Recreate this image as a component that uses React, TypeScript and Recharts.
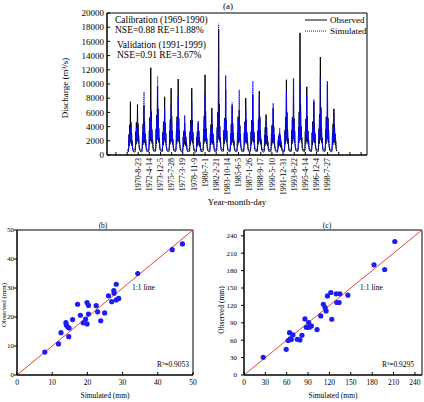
import {
  LineChart,
  Line,
  XAxis,
  YAxis,
  ReferenceArea,
  ReferenceLine,
  ScatterChart,
  Scatter,
} from 'recharts'

const font = '"Liberation Serif", "Times New Roman", serif'
const pointColor = '#1d1df2'
const simBlue = '#0a0aff'
const lineRed = '#e2483e'

// discharge samples (m3/s) taken twice a month through the flood season, one row per year from 1969
const firstYear = 1969
const sampleDays = [15, 46, 74, 91, 106, 121, 136, 152, 167, 182, 197, 213, 228, 244, 259, 274, 305, 335]

const observedFlow = [
  [420, 380, 460, 1100, 2900, 1300, 4200, 1700, 3500, 7500, 2100, 4600, 1600, 3100, 1300, 2000, 750, 500],
  [460, 400, 500, 1300, 3300, 1500, 4600, 1900, 3800, 2300, 7100, 2000, 4400, 1700, 2800, 1500, 800, 540],
  [480, 420, 510, 1200, 3100, 1400, 4400, 1800, 5200, 7000, 2200, 4700, 1700, 3000, 1400, 2100, 780, 520],
  [500, 440, 530, 1300, 3500, 1500, 5300, 2000, 4400, 12300, 2500, 6100, 1900, 3600, 1600, 2300, 850, 560],
  [540, 470, 560, 1400, 3700, 1600, 5600, 2100, 4700, 9700, 2600, 6500, 2000, 3800, 1700, 2400, 880, 580],
  [500, 440, 520, 1200, 3200, 1400, 4700, 1800, 3900, 2300, 8200, 2100, 4500, 1700, 3100, 1400, 820, 540],
  [520, 450, 540, 1300, 3400, 1500, 5000, 1900, 4200, 9400, 2400, 5500, 1800, 3400, 1500, 2200, 840, 560],
  [540, 470, 560, 1400, 3600, 1600, 5400, 2000, 4500, 2600, 10700, 2300, 5200, 1800, 3500, 1600, 870, 580],
  [440, 390, 450, 1000, 2500, 1200, 3400, 1500, 2900, 4500, 1800, 3300, 1400, 2500, 1200, 1700, 700, 480],
  [500, 440, 520, 1200, 3300, 1500, 4900, 1900, 4100, 2400, 9400, 2200, 4900, 1700, 3200, 1500, 820, 550],
  [440, 390, 450, 1000, 2500, 1200, 3300, 1500, 3000, 4500, 1800, 3400, 1400, 2400, 1200, 1700, 700, 480],
  [520, 450, 540, 1300, 3600, 1600, 5500, 2000, 4600, 11300, 2500, 6200, 1900, 3700, 1600, 2300, 860, 570],
  [480, 420, 500, 1100, 3000, 1400, 4300, 1700, 3600, 6600, 2100, 4300, 1600, 3000, 1400, 2000, 780, 520],
  [540, 470, 560, 1400, 3900, 1700, 6000, 2200, 5000, 17700, 2700, 7200, 2100, 4100, 1800, 2500, 900, 600],
  [540, 470, 560, 1300, 3500, 1600, 5200, 2000, 4400, 2500, 9200, 2300, 5000, 1800, 3400, 1600, 860, 580],
  [500, 440, 520, 1200, 3000, 1400, 4400, 1800, 3700, 7000, 2100, 4500, 1700, 3100, 1400, 2000, 800, 540],
  [500, 440, 520, 1200, 3100, 1400, 5400, 1800, 3800, 2200, 6300, 2100, 4200, 1700, 2900, 1400, 800, 540],
  [500, 440, 520, 1200, 3200, 1500, 4700, 1800, 3900, 8000, 2200, 5000, 1700, 3200, 1500, 2100, 810, 540],
  [520, 450, 540, 1300, 3300, 1500, 4900, 1900, 4100, 2400, 8500, 2200, 4700, 1800, 3200, 1500, 830, 560],
  [520, 450, 540, 1300, 3400, 1500, 5000, 1900, 4200, 9000, 2400, 5400, 1800, 3400, 1500, 2200, 840, 560],
  [460, 400, 480, 1100, 2800, 1300, 3900, 1600, 3300, 5700, 1900, 3900, 1500, 2700, 1300, 1900, 740, 500],
  [480, 420, 500, 1100, 2900, 1400, 4200, 1700, 3500, 2100, 6600, 2000, 4000, 1600, 2800, 1400, 780, 520],
  [420, 370, 430, 900, 2000, 1100, 2700, 1300, 2400, 3100, 1500, 2600, 1200, 2000, 1000, 1400, 650, 460],
  [500, 440, 520, 1300, 3500, 1600, 5300, 2000, 4400, 10600, 2500, 6000, 1900, 3600, 1600, 2300, 850, 560],
  [520, 450, 540, 1300, 3500, 1600, 5300, 2000, 4500, 2500, 9800, 2300, 5100, 1800, 3400, 1600, 860, 570],
  [540, 470, 560, 1400, 3900, 1700, 6100, 2200, 5100, 17200, 2700, 7100, 2100, 4000, 1800, 2500, 900, 600],
  [520, 450, 540, 1300, 3400, 1500, 5100, 1900, 4300, 9600, 2400, 5500, 1800, 3400, 1500, 2200, 840, 560],
  [500, 440, 520, 1200, 3200, 1400, 4700, 1800, 3900, 2300, 7500, 2100, 4500, 1700, 3000, 1400, 810, 540],
  [520, 450, 540, 1400, 3700, 1600, 5700, 2100, 4800, 13800, 2600, 6700, 2000, 3900, 1700, 2400, 880, 580],
  [540, 470, 560, 1400, 3600, 1600, 5400, 2000, 4600, 2500, 9900, 2300, 5200, 1800, 3500, 1600, 870, 580],
  [500, 440, 520, 1200, 3000, 1400, 4400, 1800, 3700, 6500, 2100, 4300, 1700, 3000, 1400, 2000, 800, 540],
]

const simulatedFlow = [
  [700, 650, 750, 1300, 2600, 1600, 3500, 2000, 3000, 4000, 2400, 3400, 1900, 2800, 1600, 2000, 1000, 760],
  [720, 660, 760, 1400, 2900, 1700, 3800, 2100, 3300, 2500, 5500, 2300, 3600, 1900, 2600, 1700, 1020, 780],
  [730, 670, 780, 1400, 2900, 1700, 4100, 2100, 5000, 8900, 2500, 4300, 2000, 2900, 1700, 2200, 1030, 790],
  [740, 680, 790, 1500, 3100, 1800, 4500, 2200, 3800, 6500, 2600, 4800, 2100, 3200, 1800, 2300, 1050, 800],
  [770, 700, 810, 1600, 3400, 1900, 5200, 2300, 4400, 11100, 2800, 6000, 2200, 3600, 1900, 2500, 1080, 820],
  [740, 680, 790, 1400, 3000, 1700, 4300, 2100, 3600, 2500, 6500, 2300, 4000, 2000, 2900, 1700, 1040, 800],
  [750, 690, 800, 1500, 3100, 1800, 4500, 2200, 3800, 7000, 2600, 4800, 2100, 3200, 1800, 2300, 1050, 810],
  [760, 700, 810, 1500, 3300, 1900, 4800, 2300, 4100, 2700, 8000, 2500, 4600, 2100, 3300, 1900, 1070, 820],
  [700, 650, 750, 1300, 2600, 1600, 3400, 1900, 3000, 5600, 2200, 3300, 1800, 2600, 1500, 1900, 980, 760],
  [740, 680, 790, 1400, 3100, 1800, 4400, 2200, 3700, 2600, 7500, 2400, 4300, 2000, 3000, 1800, 1040, 800],
  [700, 650, 750, 1300, 2600, 1600, 3300, 1900, 3000, 4800, 2200, 3300, 1800, 2500, 1500, 1900, 980, 760],
  [760, 700, 810, 1500, 3300, 1900, 4900, 2300, 4200, 8500, 2700, 5400, 2100, 3400, 1900, 2400, 1070, 820],
  [720, 660, 770, 1400, 2800, 1700, 3800, 2000, 3300, 5800, 2300, 3800, 1900, 2800, 1600, 2100, 1010, 780],
  [780, 710, 820, 1600, 3500, 2000, 5500, 2400, 4600, 18500, 2900, 6600, 2300, 3900, 2000, 2600, 1100, 840],
  [770, 700, 810, 1500, 3300, 1900, 5000, 2300, 4300, 2800, 11200, 2600, 4900, 2100, 3400, 1900, 1080, 820],
  [740, 680, 790, 1400, 3000, 1700, 4200, 2100, 3600, 7400, 2500, 4300, 2000, 3000, 1700, 2200, 1040, 800],
  [740, 680, 790, 1400, 3000, 1700, 5000, 2100, 3600, 2500, 9200, 2400, 4000, 2000, 2900, 1700, 1040, 800],
  [740, 680, 790, 1400, 3000, 1800, 4300, 2100, 3600, 6500, 2500, 4600, 2000, 3000, 1700, 2200, 1040, 800],
  [760, 700, 810, 1500, 3200, 1900, 4700, 2200, 4000, 2700, 10400, 2500, 4600, 2100, 3200, 1900, 1070, 820],
  [750, 690, 800, 1500, 3200, 1800, 4600, 2200, 3900, 8200, 2600, 5000, 2100, 3200, 1800, 2300, 1060, 810],
  [710, 660, 760, 1300, 2700, 1600, 3600, 1900, 3100, 5000, 2200, 3500, 1800, 2600, 1600, 2000, 990, 770],
  [720, 660, 770, 1400, 2800, 1700, 3900, 2000, 3400, 2400, 7300, 2300, 3800, 1900, 2700, 1700, 1010, 780],
  [680, 630, 730, 1200, 2300, 1500, 2900, 1800, 2600, 3800, 2000, 2800, 1700, 2200, 1400, 1700, 950, 740],
  [750, 690, 800, 1500, 3200, 1900, 4800, 2300, 4100, 9000, 2700, 5400, 2100, 3300, 1900, 2400, 1070, 810],
  [760, 700, 810, 1500, 3300, 1900, 4900, 2300, 4200, 2700, 10800, 2600, 4800, 2100, 3300, 1900, 1080, 820],
  [780, 710, 820, 1600, 3400, 1900, 5200, 2300, 4400, 10000, 2800, 6200, 2200, 3600, 2000, 2500, 1100, 840],
  [750, 690, 800, 1500, 3200, 1800, 4700, 2200, 4000, 8500, 2600, 5100, 2100, 3300, 1800, 2300, 1060, 810],
  [740, 680, 790, 1400, 3000, 1800, 4400, 2100, 3700, 2600, 7800, 2400, 4300, 2000, 3000, 1800, 1040, 800],
  [760, 700, 810, 1500, 3400, 1900, 5200, 2300, 4400, 11000, 2800, 6000, 2200, 3600, 1900, 2500, 1080, 820],
  [770, 700, 810, 1600, 3300, 1900, 5000, 2300, 4300, 2800, 10400, 2600, 4900, 2100, 3400, 1900, 1080, 820],
  [740, 680, 790, 1400, 2900, 1700, 4000, 2100, 3400, 5900, 2400, 4000, 2000, 2800, 1700, 2100, 1030, 790],
]

// x axis is a day count from 1969-1-1 (= day 1), ticked every 600 days
const dayDomain = [-1080, 12920]
const dayTicks = [
  -600, 0, 600, 1200, 1800, 2400, 3000, 3600, 4200, 4800, 5400, 6000, 6600, 7200, 7800, 8400, 9000,
  9600, 10200, 10800, 11400, 12000, 12600,
]
const dayTickLabels = [
  '', '', '1970-8-23', '1972-4-14', '1973-12-5', '1975-7-28', '1977-3-19', '1978-11-9', '1980-7-1',
  '1982-2-21', '1983-10-14', '1985-6-5', '1987-1-26', '1988-9-17', '1990-5-10', '1991-12-31',
  '1993-8-22', '1995-4-14', '1996-12-4', '1998-7-27', '', '', '',
]
const dischargeTicks = [0, 2000, 4000, 6000, 8000, 10000, 12000, 14000, 16000, 18000, 20000]

// annual runoff depth, simulated vs observed (mm)
const simulatedB = [
  7.9, 11.8, 12.5, 13.9, 14.0, 14.4, 14.8, 14.7, 15.8, 17.2, 18.0, 18.8, 19.5, 19.9, 19.9, 20.3, 20.3,
  22.5, 22.9, 23.8, 24.9, 26.0, 26.9, 27.5, 27.6, 28.2, 28.2, 28.9, 34.3, 44.1, 47.0,
]
const observedB = [
  7.9, 10.7, 14.6, 18.1, 17.2, 16.6, 16.2, 13.2, 19.1, 24.4, 20.6, 18.0, 19.3, 25.0, 17.6, 24.0, 21.0,
  23.9, 21.8, 18.7, 21.4, 27.3, 25.3, 29.1, 28.2, 31.3, 25.9, 26.4, 35.0, 43.2, 45.2,
]
const ticksB = [0, 10, 20, 30, 40, 50]

const simulatedC = [
  27.0, 59.3, 62.0, 64.0, 64.9, 66.4, 68.7, 74.8, 78.6, 81.4, 85.6, 87.5, 89.4, 90.8, 91.8, 94.6, 102.6,
  107.8, 111.5, 113.9, 115.3, 117.2, 121.9, 123.3, 129.4, 130.4, 133.6, 134.6, 145.9, 182.6, 197.6, 211.8,
]
const observedC = [
  30.5, 44.3, 59.5, 73.0, 62.2, 61.0, 69.1, 61.6, 60.4, 68.5, 96.7, 82.3, 82.3, 90.4, 82.3, 84.6, 78.3,
  101.9, 122.0, 116.3, 110.5, 136.4, 142.2, 96.1, 140.0, 125.0, 125.0, 140.0, 137.7, 190.0, 181.9, 230.2,
]
const ticksC = [0, 30, 60, 90, 120, 150, 180, 210, 240]

const flowRows = observedFlow.flatMap((row, i) => {
  const yearStart = (Date.UTC(firstYear + i, 0, 1) - Date.UTC(firstYear, 0, 1)) / 86400000
  return row.map((obs, j) => ({
    day: yearStart + sampleDays[j],
    observed: obs,
    simulated: simulatedFlow[i][j],
  }))
})

const pairsB = simulatedB.map((s, i) => ({ sim: s, obs: observedB[i] }))
const pairsC = simulatedC.map((s, i) => ({ sim: s, obs: observedC[i] }))

function DateTick(props: any) {
  const { x, y, payload } = props
  const label = dayTickLabels[dayTicks.indexOf(payload.value)] ?? ''
  return (
    <g transform={`translate(${x},${y})`}>
      <line x1={0} y1={0} x2={0} y2={-3} stroke="#000" />
      <text
        transform="rotate(-90)"
        x={-3}
        y={0}
        dy="0.33em"
        textAnchor="end"
        fontSize={8}
        fontFamily={font}
        fill="#000"
      >
        {label}
      </text>
    </g>
  )
}

function leftTick(fontSize: number, gap: number, inward: boolean) {
  return (props: any) => {
    const { x, y, payload } = props
    return (
      <g transform={`translate(${x},${y})`}>
        <line x1={0} y1={0} x2={inward ? 3 : -3} y2={0} stroke="#000" />
        <text x={-gap} y={0} dy="0.35em" textAnchor="end" fontSize={fontSize} fontFamily={font} fill="#000">
          {payload.value}
        </text>
      </g>
    )
  }
}

function bottomTick(fontSize: number) {
  return (props: any) => {
    const { x, y, payload } = props
    return (
      <g transform={`translate(${x},${y})`}>
        <line x1={0} y1={0} x2={0} y2={-3} stroke="#000" />
        <text x={0} y={0} dy={fontSize + 2} textAnchor="middle" fontSize={fontSize} fontFamily={font} fill="#000">
          {payload.value}
        </text>
      </g>
    )
  }
}

function Dot(props: any) {
  return <circle cx={props.cx} cy={props.cy} r={2.6} fill={pointColor} />
}

function RunoffScatter({
  data,
  ticks,
  max,
  yAxisWidth,
  labelGap,
  right,
}: {
  data: { sim: number; obs: number }[]
  ticks: number[]
  max: number
  yAxisWidth: number
  labelGap: number
  right: number
}) {
  return (
    <ScatterChart width={212} height={182} margin={{ top: 10, right, bottom: 0, left: 0 }}>
      <ReferenceArea x1={0} x2={max} y1={0} y2={max} fill="none" stroke="#000" strokeWidth={1} ifOverflow="visible" />
      <XAxis
        type="number"
        dataKey="sim"
        domain={[0, max]}
        ticks={ticks}
        interval={0}
        height={27}
        tickSize={0}
        tickMargin={0}
        tickLine={false}
        axisLine={{ stroke: '#000' }}
        tick={bottomTick(7.5)}
      />
      <YAxis
        type="number"
        dataKey="obs"
        domain={[0, max]}
        ticks={ticks}
        interval={0}
        width={yAxisWidth}
        tickSize={0}
        tickMargin={0}
        tickLine={false}
        axisLine={{ stroke: '#000' }}
        tick={leftTick(7, labelGap, false)}
      />
      <ReferenceLine
        segment={[
          { x: 0, y: 0 },
          { x: max, y: max },
        ]}
        stroke={lineRed}
        strokeWidth={1}
        ifOverflow="visible"
      />
      <Scatter data={data} shape={Dot} isAnimationActive={false} />
    </ScatterChart>
  )
}

export default function App() {
  const t = { fontFamily: font, fill: '#000' }
  return (
    <div style={{ position: 'absolute', left: 0, top: 0, width: 424, height: 402, background: '#fff' }}>
      <div style={{ position: 'absolute', left: 0, top: 0 }}>
        <LineChart width={424} height={210} data={flowRows} margin={{ top: 13, right: 57, bottom: 5, left: 67 }}>
          <ReferenceArea
            x1={dayDomain[0]}
            x2={dayDomain[1]}
            y1={0}
            y2={20000}
            fill="none"
            stroke="#000"
            strokeWidth={1}
            ifOverflow="visible"
          />
          <XAxis
            type="number"
            dataKey="day"
            domain={dayDomain}
            ticks={dayTicks}
            interval={0}
            height={50}
            tickSize={0}
            tickMargin={0}
            tickLine={false}
            axisLine={{ stroke: '#000' }}
            tick={DateTick}
          />
          <YAxis
            domain={[0, 20000]}
            ticks={dischargeTicks}
            interval={0}
            width={40}
            tickSize={0}
            tickMargin={0}
            tickLine={false}
            axisLine={{ stroke: '#000' }}
            tick={leftTick(9, 3, true)}
          />
          <Line
            type="linear"
            dataKey="observed"
            stroke="#000"
            strokeWidth={1}
            dot={false}
            activeDot={false}
            isAnimationActive={false}
          />
          <Line
            type="linear"
            dataKey="simulated"
            stroke={simBlue}
            strokeWidth={1.2}
            strokeDasharray="1.2 0.8"
            dot={false}
            activeDot={false}
            isAnimationActive={false}
          />
        </LineChart>
      </div>

      <div style={{ position: 'absolute', left: 0, top: 220 }}>
        <RunoffScatter data={pairsB} ticks={ticksB} max={50} yAxisWidth={17} labelGap={3} right={19} />
      </div>
      <div style={{ position: 'absolute', left: 212, top: 220 }}>
        <RunoffScatter data={pairsC} ticks={ticksC} max={250} yAxisWidth={32} labelGap={7} right={2} />
      </div>

      <svg width={424} height={402} style={{ position: 'absolute', left: 0, top: 0, pointerEvents: 'none' }}>
        <text x={228} y={9} textAnchor="middle" fontSize={9} {...t}>(a)</text>
        <text x={115} y={23} fontSize={9.5} {...t}>Calibration (1969-1990)</text>
        <text x={115} y={32.5} fontSize={9.5} {...t}>NSE=0.88 RE=11.88%</text>
        <text x={117} y={48} fontSize={9.5} {...t}>Validation (1991-1999)</text>
        <text x={117} y={57.5} fontSize={9.5} {...t}>NSE=0.91 RE=3.67%</text>

        <line x1={305} y1={20} x2={327} y2={20} stroke="#000" strokeWidth={1} />
        <text x={330} y={23} fontSize={9} {...t}>Observed</text>
        <line x1={305} y1={31} x2={327} y2={31} stroke={simBlue} strokeWidth={1} strokeDasharray="1 1" />
        <text x={330} y={34} fontSize={9} {...t}>Simulated</text>

        <text x={65} y={88} transform="rotate(-90 65 88)" textAnchor="middle" dy="0.35em" fontSize={9} {...t}>
          Discharge (m³/s)
        </text>
        <text x={237} y={205} textAnchor="middle" fontSize={9} {...t}>Year-month-day</text>

        <text x={103} y={228} textAnchor="middle" fontSize={7.5} {...t}>(b)</text>
        <text x={4} y={305} transform="rotate(-90 4 305)" textAnchor="middle" dy="0.35em" fontSize={7} {...t}>
          Observed (mm)
        </text>
        <text x={105} y={398} textAnchor="middle" fontSize={7.5} {...t}>Simulated (mm)</text>
        <text x={132} y={290} fontSize={7.5} {...t}>1:1 line</text>
        <text x={157} y={367} fontSize={7.5} {...t}>R²=0.9053</text>

        <text x={327} y={228} textAnchor="middle" fontSize={7.5} {...t}>(c)</text>
        <text x={221} y={310} transform="rotate(-90 221 310)" textAnchor="middle" dy="0.35em" fontSize={7.5} {...t}>
          Observed (mm)
        </text>
        <text x={333} y={398} textAnchor="middle" fontSize={7.5} {...t}>Simulated (mm)</text>
        <text x={360} y={290} fontSize={7.5} {...t}>1:1 line</text>
        <text x={382} y={367} fontSize={7.5} {...t}>R²=0.9295</text>
      </svg>
    </div>
  )
}
